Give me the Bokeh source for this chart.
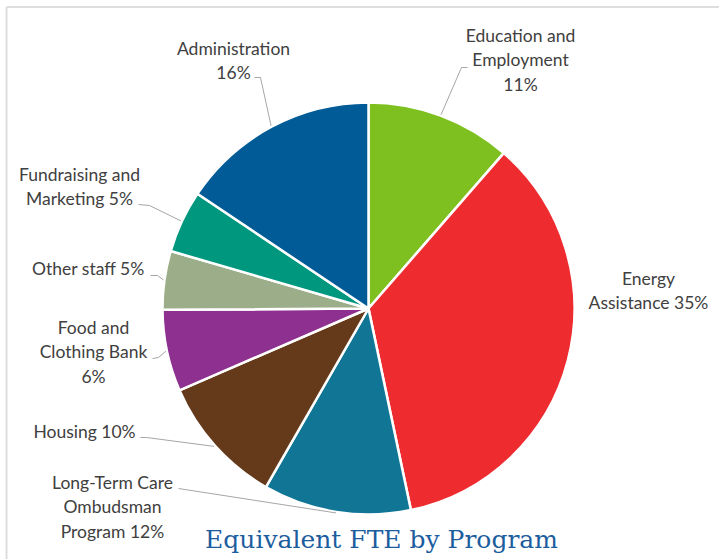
import math
from bokeh.plotting import figure
from bokeh.models import Range1d
from bokeh.embed import file_html
from bokeh.resources import INLINE
from bokeh.core.properties import value

# ---------------- data ----------------
programs = ["Education and Employment", "Energy Assistance",
            "Long-Term Care Ombudsman Program", "Housing",
            "Food and Clothing Bank", "Other staff",
            "Fundraising and Marketing", "Administration"]
shares = [11.4, 35.3, 11.6, 10.2, 6.4, 4.6, 4.9, 15.6]
label_templates = ["Education and\nEmployment\n{}%", "Energy\nAssistance {}%",
                   "Long-Term Care\nOmbudsman\nProgram {}%", "Housing {}%",
                   "Food and\nClothing Bank\n{}%", "Other staff {}%",
                   "Fundraising and\nMarketing {}%", "Administration\n{}%"]
title_text = "Equivalent FTE by Program"

# ---------------- style / layout ----------------
colors = ["#7dc01f", "#ee2b2f", "#117696", "#643a1b",
          "#8e3090", "#9cae89", "#00977f", "#005b97"]
W, H = 719, 559
CX, CY, R = 368, 308, 206
LINE_H = 24.3
FONT = "Lato"
FONT_SIZE = "17.5px"
TEXT_COLOR = "#404040"
LEADER_COLOR = "#a6a6a6"
# label anchor: (center x, first line center y) in screen px
label_pos = [(520, 35), (648, 278), (112, 482), (84, 431),
             (93, 327), (88, 268), (79, 174), (233, 48)]
# label-side leader points in screen px (None -> no leader)
leader_pts = [[(467, 67), (461, 67)], None, [(178, 488)],
              [(140, 437), (146, 437)], [(152, 358), (158, 357)],
              [(150, 275), (157, 275)], [(138, 204), (149, 205)],
              [(254, 77), (260, 77)]]


def Y(y):
    return H - y


p = figure(width=W, height=H, x_range=Range1d(0, W), y_range=Range1d(0, H),
           output_backend="svg", toolbar_location=None, min_border=0)
p.axis.visible = False
p.grid.visible = False
p.outline_line_color = None
p.background_fill_color = "white"
p.border_fill_color = "white"

# frame border lines (top and left)
p.line([6, W], [Y(6.5), Y(6.5)], line_color="#dedede", line_width=2)
p.line([6, 6], [Y(6.5), 0], line_color="#dedede", line_width=2)

total = sum(shares)
cum = 0.0
starts, ends, mids = [], [], []
for s in shares:
    t0 = cum / total * 2 * math.pi
    cum += s
    t1 = cum / total * 2 * math.pi
    starts.append(math.pi / 2 - t0)
    ends.append(math.pi / 2 - t1)
    mids.append((t0 + t1) / 2)

p.wedge(x=CX, y=Y(CY), radius=R, start_angle=starts, end_angle=ends,
        direction="clock", fill_color=colors, line_color="white", line_width=2.5)

# leader lines
for i, pts in enumerate(leader_pts):
    if pts is None:
        continue
    th = mids[i]
    ex = CX + (R + 1) * math.sin(th)
    ey = CY - (R + 1) * math.cos(th)
    xs = [pt[0] for pt in pts] + [ex]
    ys = [Y(pt[1]) for pt in pts] + [Y(ey)]
    p.line(xs, ys, line_color=LEADER_COLOR, line_width=1)

# labels
tx, ty, tt = [], [], []
for i, tmpl in enumerate(label_templates):
    pct = round(shares[i] / total * 100)
    lines = tmpl.format(pct).split("\n")
    x0, y0 = label_pos[i]
    for k, ln in enumerate(lines):
        tx.append(x0)
        ty.append(Y(y0 + k * LINE_H))
        tt.append(ln)
p.text(x=tx, y=ty, text=tt, text_align="center", text_baseline="middle",
       text_font=value(FONT), text_font_size=FONT_SIZE, text_color=TEXT_COLOR)

# title
p.text(x=[381], y=[Y(539)], text=[title_text], text_align="center",
       text_baseline="middle", text_font=value("DejaVu Serif"),
       text_font_size="25px", text_color="#1c5d9e")

open("out.html", "w").write(file_html(p, INLINE))
